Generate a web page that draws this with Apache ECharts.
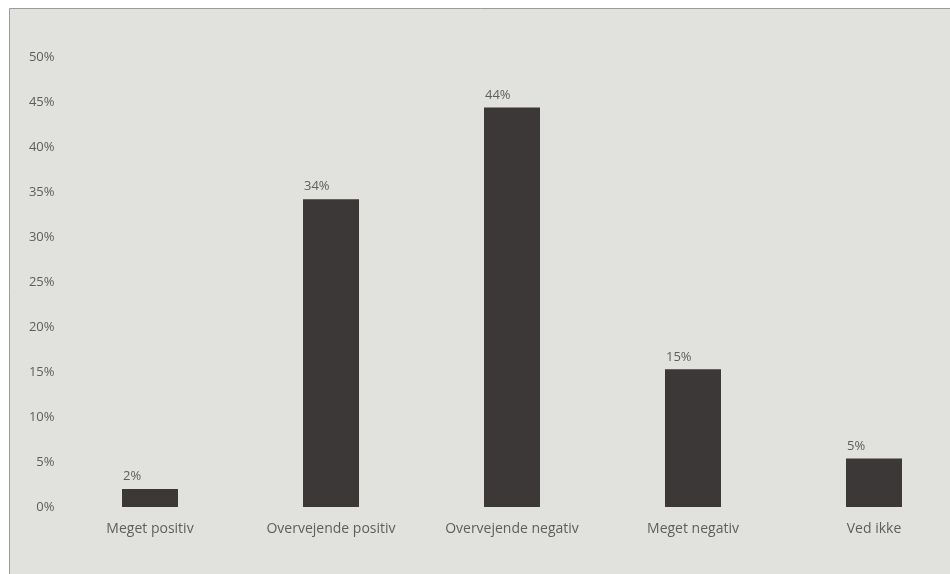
<!DOCTYPE html>
<html>
<head>
<meta charset="utf-8">
<script src="https://cdn.jsdelivr.net/npm/echarts@6/dist/echarts.min.js"></script>
<style>
html,body{margin:0;padding:0;background:#fff;}
#chart{width:950px;height:574px;}
</style>
</head>
<body>
<div id="chart"></div>
<script>
var categories = ['Meget positiv', 'Overvejende positiv', 'Overvejende negativ', 'Meget negativ', 'Ved ikke'];
var values = [2.0, 34.2, 44.4, 15.3, 5.4];
var valueLabels = ['2%', '34%', '44%', '15%', '5%'];
var yTicks = [0, 5, 10, 15, 20, 25, 30, 35, 40, 45, 50];

var chart = echarts.init(document.getElementById('chart'), null, {renderer: 'canvas'});
var textColor = '#5e5e5e';
var fontFamily = '"Open Sans", "DejaVu Sans", sans-serif';
chart.setOption({
  backgroundColor: '#ffffff',
  animation: false,
  graphic: [{
    type: 'rect',
    z: -10,
    shape: {x: 9.5, y: 8.5, width: 960, height: 600},
    style: {fill: '#e1e1de', stroke: '#9c9c9a', lineWidth: 1}
  }],
  grid: {left: 59.5, top: 57, width: 905, bottom: 67, containLabel: false, outerBoundsMode: 'none'},
  xAxis: {
    type: 'category',
    data: categories,
    axisLine: {show: false},
    axisTick: {show: false},
    axisLabel: {color: textColor, fontSize: 14, fontFamily: fontFamily, margin: 15, interval: 0}
  },
  yAxis: {
    type: 'value',
    min: yTicks[0],
    max: yTicks[yTicks.length - 1],
    interval: 5,
    splitLine: {show: false},
    axisLine: {show: false},
    axisTick: {show: false},
    axisLabel: {color: textColor, fontSize: 13, fontFamily: fontFamily, margin: 5,
      formatter: function (v) { return v + '%'; }}
  },
  series: [{
    type: 'bar',
    data: values,
    barWidth: 56,
    itemStyle: {color: '#3b3837'},
    label: {
      show: true,
      position: 'top',
      align: 'left',
      offset: [-27, -1],
      color: textColor,
      fontSize: 13,
      fontFamily: fontFamily,
      formatter: function (p) { return valueLabels[p.dataIndex]; }
    }
  }]
});
</script>
</body>
</html>
